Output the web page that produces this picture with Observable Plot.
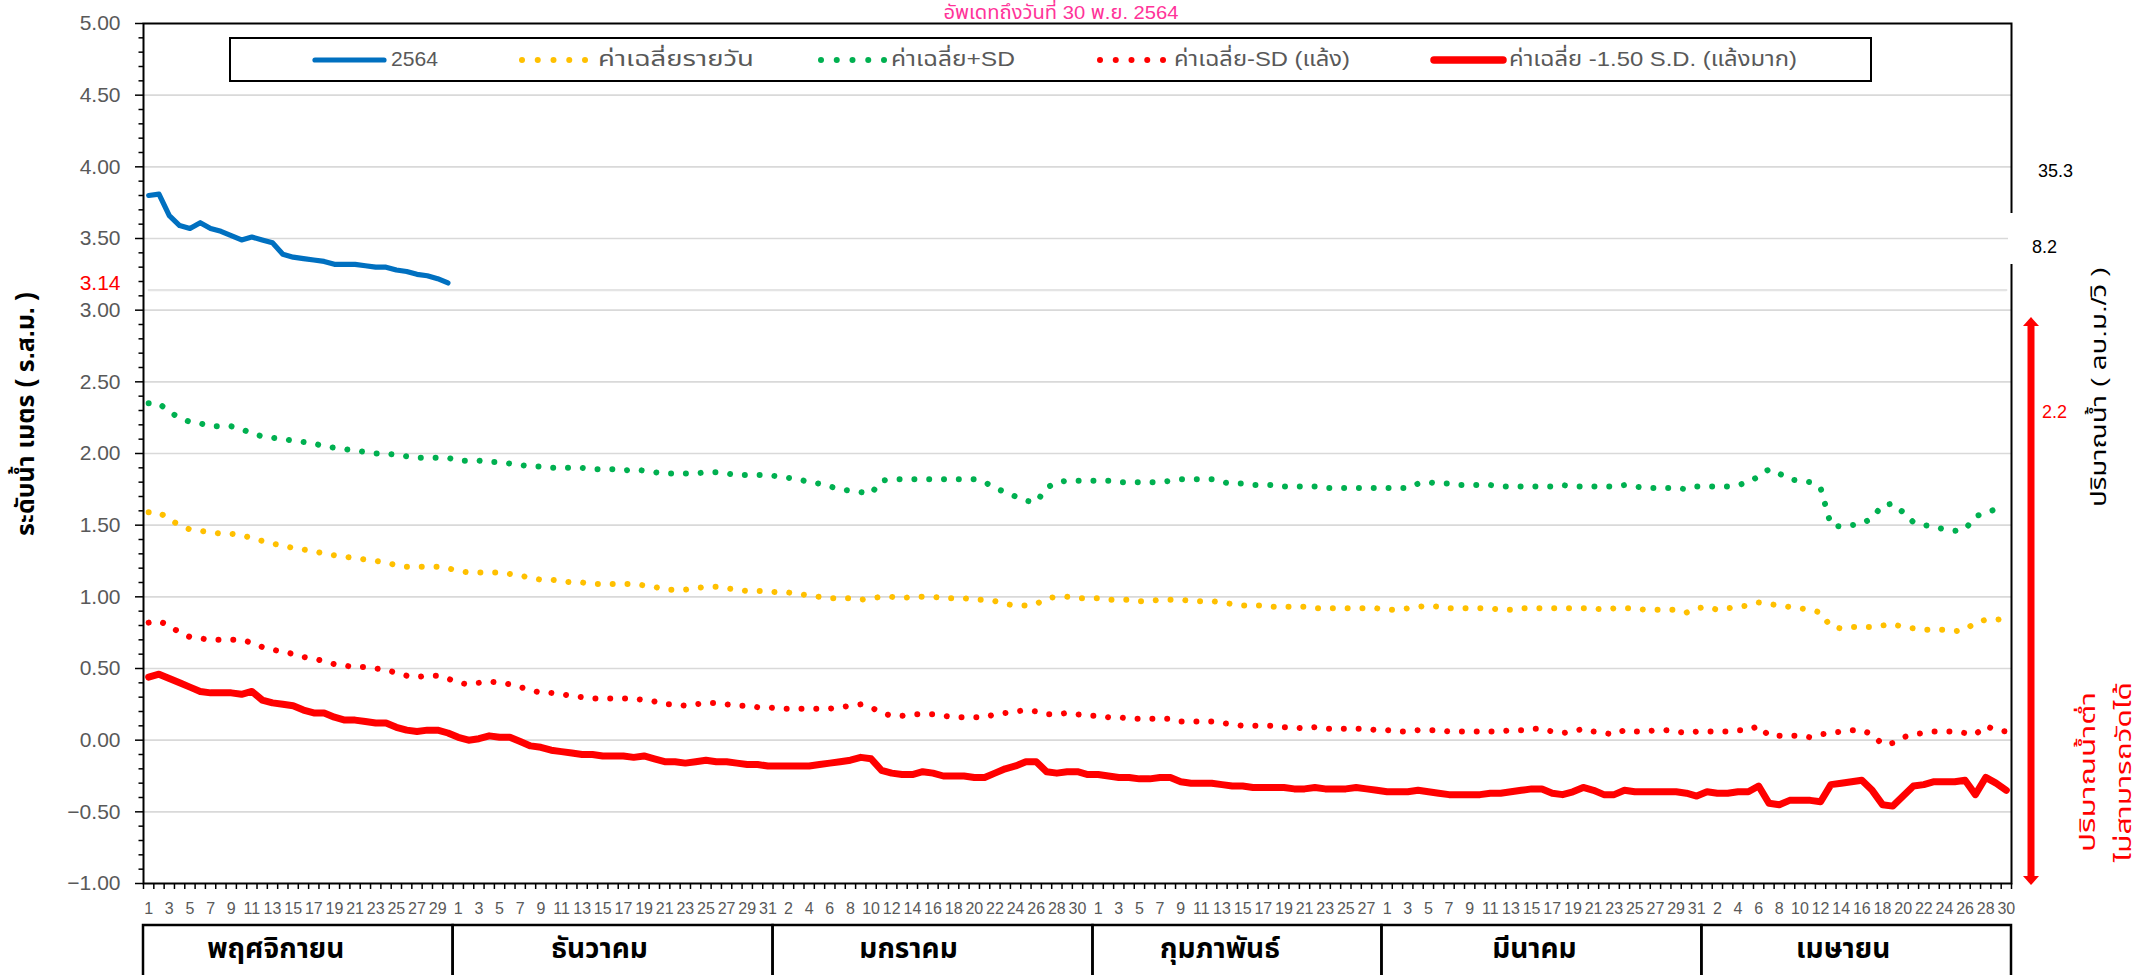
<!DOCTYPE html>
<html><head><meta charset="utf-8">
<script src="https://cdn.jsdelivr.net/npm/d3@7"></script>
<script src="https://cdn.jsdelivr.net/npm/@observablehq/plot@0.6"></script>
<style>
html,body{margin:0;padding:0;background:#fff;}
#chart{position:relative;width:2147px;height:975px;overflow:hidden;}
</style></head><body><div id="chart"></div>
<script>
// ---------- data ----------
const monthNames = ["พฤศจิกายน","ธันวาคม","มกราคม","กุมภาพันธ์","มีนาคม","เมษายน"];
const monthDays = [30,31,31,28,31,30];
const dayLabels = monthDays.flatMap(n => d3.range(1, n + 1).map(String));

const seriesNames = ["2564","ค่าเฉลี่ยรายวัน","ค่าเฉลี่ย+SD","ค่าเฉลี่ย-SD (แล้ง)","ค่าเฉลี่ย -1.50 S.D. (แล้งมาก)"];
const yTicks = [-1,-0.5,0,0.5,1,1.5,2,2.5,3,3.5,4,4.5,5];
const refLevel = 3.14;
const flowLabels = ["35.3","8.2","2.2"];

const level2564 = [3.80,3.81,3.66,3.59,3.57,3.61,3.57,3.55,3.52,3.49,3.51,3.49,3.47,3.39,3.37,3.36,3.35,3.34,3.32,3.32,3.32,3.31,3.30,3.30,3.28,3.27,3.25,3.24,3.22,3.19];

const avgDaily = [
1.59,1.59,1.54,1.50,1.47,1.46,1.45,1.44,1.44,1.43,1.41,1.39,1.37,1.36,1.34,1.33,1.32,1.30,1.29,1.28,1.27,1.26,1.25,1.24,1.22,1.21,1.21,1.21,1.21,1.20,
1.18,1.17,1.17,1.17,1.17,1.16,1.15,1.13,1.12,1.12,1.11,1.10,1.10,1.09,1.09,1.09,1.09,1.09,1.08,1.07,1.05,1.05,1.05,1.06,1.07,1.07,1.06,1.05,1.04,1.04,1.04,
1.03,1.03,1.02,1.01,1.00,0.99,0.99,0.99,0.98,0.99,1.00,1.00,0.99,1.00,1.00,1.00,0.99,0.99,0.99,0.98,0.98,0.97,0.95,0.94,0.94,0.95,0.99,1.00,1.00,0.99,0.99,
0.99,0.98,0.98,0.98,0.97,0.97,0.98,0.98,0.98,0.97,0.97,0.97,0.96,0.95,0.94,0.94,0.94,0.93,0.93,0.93,0.93,0.92,0.92,0.92,0.92,0.92,0.92,0.92,
0.91,0.91,0.92,0.93,0.94,0.93,0.92,0.92,0.92,0.92,0.92,0.91,0.91,0.92,0.92,0.92,0.92,0.92,0.92,0.92,0.92,0.91,0.92,0.92,0.92,0.91,0.91,0.91,0.91,0.89,0.92,
0.93,0.91,0.92,0.93,0.94,0.96,0.95,0.94,0.93,0.92,0.91,0.89,0.79,0.78,0.79,0.79,0.79,0.80,0.81,0.79,0.78,0.77,0.77,0.77,0.76,0.77,0.82,0.84,0.84,0.85
];

const avgPlusSD = [
2.35,2.35,2.29,2.25,2.22,2.21,2.19,2.19,2.19,2.17,2.14,2.12,2.11,2.10,2.09,2.08,2.07,2.05,2.04,2.03,2.02,2.01,2.00,2.00,1.99,1.98,1.97,1.97,1.97,1.97,
1.95,1.95,1.95,1.94,1.94,1.93,1.92,1.91,1.91,1.90,1.90,1.90,1.90,1.89,1.89,1.89,1.88,1.89,1.88,1.87,1.86,1.86,1.86,1.86,1.87,1.87,1.86,1.85,1.85,1.85,1.85,
1.84,1.83,1.82,1.80,1.79,1.77,1.75,1.74,1.73,1.72,1.81,1.82,1.82,1.82,1.82,1.82,1.82,1.82,1.82,1.82,1.80,1.76,1.73,1.70,1.67,1.66,1.76,1.80,1.81,1.81,1.81,
1.81,1.81,1.80,1.80,1.80,1.80,1.80,1.81,1.82,1.82,1.82,1.82,1.80,1.79,1.79,1.78,1.78,1.78,1.77,1.77,1.77,1.77,1.76,1.76,1.76,1.76,1.76,1.76,
1.76,1.76,1.76,1.79,1.80,1.79,1.79,1.78,1.78,1.78,1.78,1.77,1.77,1.77,1.77,1.77,1.77,1.78,1.77,1.77,1.77,1.77,1.77,1.78,1.77,1.76,1.76,1.76,1.76,1.75,1.77,
1.77,1.77,1.77,1.78,1.80,1.84,1.89,1.86,1.82,1.81,1.80,1.76,1.50,1.49,1.50,1.51,1.55,1.64,1.65,1.59,1.52,1.50,1.49,1.47,1.46,1.47,1.56,1.59,1.61,1.62
];

const avgMinusSD = [
0.82,0.83,0.80,0.75,0.72,0.71,0.70,0.70,0.70,0.70,0.68,0.65,0.63,0.62,0.60,0.58,0.57,0.55,0.53,0.52,0.51,0.51,0.50,0.49,0.47,0.45,0.44,0.45,0.45,0.43,
0.40,0.39,0.40,0.41,0.40,0.39,0.37,0.35,0.33,0.33,0.32,0.31,0.30,0.29,0.29,0.29,0.29,0.29,0.28,0.27,0.25,0.25,0.24,0.25,0.26,0.26,0.25,0.24,0.24,0.23,0.23,
0.22,0.22,0.22,0.22,0.22,0.22,0.23,0.24,0.25,0.23,0.19,0.17,0.17,0.18,0.18,0.18,0.17,0.16,0.16,0.16,0.16,0.18,0.19,0.20,0.21,0.20,0.18,0.18,0.19,0.18,0.17,
0.17,0.16,0.16,0.15,0.15,0.15,0.15,0.15,0.13,0.13,0.13,0.13,0.12,0.11,0.10,0.10,0.10,0.10,0.09,0.09,0.08,0.09,0.08,0.08,0.08,0.08,0.08,0.07,
0.07,0.06,0.06,0.07,0.07,0.07,0.06,0.06,0.06,0.06,0.06,0.06,0.07,0.07,0.08,0.08,0.06,0.05,0.06,0.08,0.06,0.05,0.04,0.07,0.06,0.06,0.07,0.07,0.06,0.05,0.06,
0.06,0.06,0.06,0.07,0.07,0.10,0.03,0.03,0.03,0.03,0.02,0.04,0.05,0.06,0.07,0.07,0.04,-0.03,-0.02,0.02,0.04,0.05,0.06,0.06,0.06,0.05,0.04,0.10,0.07,0.06
];

const avgMinus15SD = [
0.44,0.46,0.43,0.40,0.37,0.34,0.33,0.33,0.33,0.32,0.34,0.28,0.26,0.25,0.24,0.21,0.19,0.19,0.16,0.14,0.14,0.13,0.12,0.12,0.09,0.07,0.06,0.07,0.07,0.05,
0.02,0.00,0.01,0.03,0.02,0.02,-0.01,-0.04,-0.05,-0.07,-0.08,-0.09,-0.10,-0.10,-0.11,-0.11,-0.11,-0.12,-0.11,-0.13,-0.15,-0.15,-0.16,-0.15,-0.14,-0.15,-0.15,-0.16,-0.17,-0.17,-0.18,
-0.18,-0.18,-0.18,-0.18,-0.17,-0.16,-0.15,-0.14,-0.12,-0.13,-0.21,-0.23,-0.24,-0.24,-0.22,-0.23,-0.25,-0.25,-0.25,-0.26,-0.26,-0.23,-0.20,-0.18,-0.15,-0.15,-0.22,-0.23,-0.22,-0.22,-0.24,
-0.24,-0.25,-0.26,-0.26,-0.27,-0.27,-0.26,-0.26,-0.29,-0.30,-0.30,-0.30,-0.31,-0.32,-0.32,-0.33,-0.33,-0.33,-0.33,-0.34,-0.34,-0.33,-0.34,-0.34,-0.34,-0.33,-0.34,-0.35,
-0.36,-0.36,-0.36,-0.35,-0.36,-0.37,-0.38,-0.38,-0.38,-0.38,-0.37,-0.37,-0.36,-0.35,-0.34,-0.34,-0.37,-0.38,-0.36,-0.33,-0.35,-0.38,-0.38,-0.35,-0.36,-0.36,-0.36,-0.36,-0.36,-0.37,-0.39,
-0.36,-0.37,-0.37,-0.36,-0.36,-0.32,-0.44,-0.45,-0.42,-0.42,-0.42,-0.43,-0.31,-0.30,-0.29,-0.28,-0.35,-0.45,-0.46,-0.39,-0.32,-0.31,-0.29,-0.29,-0.29,-0.28,-0.38,-0.26,-0.30,-0.35
];

// ---------- styles ----------
const FONT = '"Liberation Sans","Noto Sans Thai","Loma","Garuda","Waree","Tlwg Typo","Noto Sans",sans-serif';
const GRAY = "#595959";
const C_BLUE = "#0070C0", C_YEL = "#FFC000", C_GRN = "#00B050", C_RED = "#FF0000";
const DOT = {strokeWidth: 6, strokeDasharray: "0.01 14.8", strokeLinecap: "round"};

const rows = dayLabels.map((d, i) => ({
  i, day: d,
  avg: avgDaily[i], plus: avgPlusSD[i], minus: avgMinusSD[i], minus15: avgMinus15SD[i],
  cur: i < level2564.length ? level2564[i] : null, ref: refLevel
}));
const curRows = rows.filter(r => r.cur != null);
const n = dayLabels.length;

const minorTicks = d3.range(-10, 51).map(k => k / 10).filter(v => Math.abs(v * 2 - Math.round(v * 2)) > 1e-6);

const chart = Plot.plot({
  width: 2147, height: 975,
  marginLeft: 143, marginRight: 136, marginTop: 23, marginBottom: 92,
  style: {fontFamily: FONT, background: "white", overflow: "visible"},
  x: {type: "linear", domain: [-0.5, n - 0.5], label: null},
  y: {type: "linear", domain: [-1, 5], label: null},
  marks: [
    Plot.gridY(yTicks.filter(v => v > -1 && v < 5), {stroke: "#D9D9D9", strokeOpacity: 1, strokeWidth: 1.6}),
    Plot.line(rows, {x: "i", y: "ref", stroke: "#E4E4E4", strokeWidth: 2.2}),
    Plot.line(curRows, {x: "i", y: "cur", stroke: C_BLUE, strokeWidth: 5.2, strokeLinecap: "round", strokeLinejoin: "round"}),
    Plot.line(rows, {x: "i", y: "avg", stroke: C_YEL, ...DOT}),
    Plot.line(rows, {x: "i", y: "plus", stroke: C_GRN, ...DOT}),
    Plot.line(rows, {x: "i", y: "minus", stroke: C_RED, ...DOT}),
    Plot.line(rows, {x: "i", y: "minus15", stroke: C_RED, strokeWidth: 7, strokeLinejoin: "round", strokeLinecap: "round"}),
    Plot.frame({stroke: "black", strokeWidth: 2}),
    // y axis ticks + labels
    Plot.axisY({ticks: yTicks, tickSize: 8, tickFormat: () => "", stroke: "black", strokeWidth: 1.5}),
    Plot.axisY({ticks: minorTicks, tickSize: 4.5, tickFormat: () => "", stroke: "black", strokeWidth: 1.5}),
    Plot.axisY({ticks: yTicks, tickSize: 0, tickPadding: 23, tickFormat: d3.format(".2f"), fill: GRAY, fontSize: 21}),
    Plot.axisY({ticks: [refLevel], tickSize: 0, tickPadding: 23, dy: -7, tickFormat: d3.format(".2f"), fill: C_RED, fontSize: 21}),
    // x axis: category boundary ticks + day labels
    Plot.axisX({ticks: d3.range(0, n + 1).map(k => k - 0.5), tickSize: 6, tickFormat: () => "", stroke: "black", strokeWidth: 1.5}),
    Plot.axisX({ticks: d3.range(0, n, 2), tickSize: 0, tickPadding: 19, tickFormat: i => dayLabels[i], fill: GRAY, fontSize: 16})
  ]
});
document.getElementById("chart").appendChild(chart);

// ---------- annotations (positions from the scales) ----------
const svg = d3.select(chart);
const xs = chart.scale("x");
const X = v => xs.apply(v);
const plotRight = X(n - 0.5);
const ann = svg.append("g").attr("font-family", FONT).attr("text-anchor", "start");

// month table (labels sit slightly left of the cell centre, as in the original)
const monthLabelShift = [-22, -13, -24, -17, -7, -13];
let start = 0;
monthDays.forEach((len, k) => {
  const x0 = X(start - 0.5), x1 = X(start + len - 0.5);
  ann.append("rect").attr("x", x0).attr("y", 925).attr("width", x1 - x0).attr("height", 80)
    .attr("fill", "none").attr("stroke", "black").attr("stroke-width", 2.5);
  ann.append("text").attr("x", (x0 + x1) / 2 + monthLabelShift[k]).attr("y", 951).attr("text-anchor", "middle")
    .attr("dominant-baseline", "middle").attr("font-size", 28).attr("font-weight", "bold")
    .attr("fill", "black").text(monthNames[k]);
  start += len;
});

// legend
const lg = ann.append("g");
lg.append("rect").attr("x", 230).attr("y", 38).attr("width", 1641).attr("height", 43)
  .attr("fill", "white").attr("stroke", "black").attr("stroke-width", 2);
const LY = 60;
const legendItems = [
  {x0: 315, x1: 384, tx: 391, tw: 47, stroke: C_BLUE, w: 5.2, dots: false},
  {x0: 522, x1: 585, tx: 598, tw: 156, stroke: C_YEL, w: 6, dots: true},
  {x0: 821, x1: 884, tx: 891, tw: 124, stroke: C_GRN, w: 6, dots: true},
  {x0: 1100, x1: 1163, tx: 1174, tw: 176, stroke: C_RED, w: 6, dots: true},
  {x0: 1434, x1: 1503, tx: 1509, tw: 288, stroke: C_RED, w: 7.5, dots: false}
];
legendItems.forEach((it, k) => {
  if (it.dots) {
    d3.range(5).forEach(j => {
      lg.append("circle").attr("cx", it.x0 + j * (it.x1 - it.x0) / 4).attr("cy", LY).attr("r", it.w / 2).attr("fill", it.stroke);
    });
  } else {
    lg.append("line").attr("x1", it.x0).attr("x2", it.x1).attr("y1", LY).attr("y2", LY)
      .attr("stroke", it.stroke).attr("stroke-width", it.w).attr("stroke-linecap", "round");
  }
  lg.append("text").attr("x", it.tx).attr("y", LY).attr("dominant-baseline", "middle").attr("text-anchor", "start")
    .attr("font-size", 21).attr("fill", GRAY).attr("textLength", it.tw).attr("lengthAdjust", "spacingAndGlyphs")
    .text(seriesNames[k]);
});

// title
ann.append("text").attr("x", 1061).attr("y", 14).attr("text-anchor", "middle").attr("dominant-baseline", "middle")
  .attr("font-size", 19).attr("fill", "#FF3399").attr("textLength", 235).attr("lengthAdjust", "spacingAndGlyphs")
  .text("อัพเดทถึงวันที่ 30 พ.ย. 2564");

// y axis title
ann.append("text").attr("transform", "translate(27,414) rotate(-90)").attr("text-anchor", "middle")
  .attr("dominant-baseline", "middle").attr("font-size", 25).attr("font-weight", "bold").attr("fill", "black")
  .text("ระดับน้ำ เมตร ( ร.ส.ม. )");

// right side: gap in border behind the 8.2 label, flow labels, arrow, titles
ann.append("rect").attr("x", plotRight - 3).attr("y", 213).attr("width", 6).attr("height", 51).attr("fill", "white");
ann.append("text").attr("x", 2038).attr("y", 172).attr("dominant-baseline", "middle").attr("text-anchor", "start").attr("font-size", 18).attr("fill", "black").text(flowLabels[0]);
ann.append("text").attr("x", 2032).attr("y", 248).attr("dominant-baseline", "middle").attr("text-anchor", "start").attr("font-size", 18).attr("fill", "black").text(flowLabels[1]);
ann.append("text").attr("x", 2042).attr("y", 413).attr("dominant-baseline", "middle").attr("text-anchor", "start").attr("font-size", 18).attr("fill", C_RED).text(flowLabels[2]);

const AX = 2031, AT = 317, AB = 885;
ann.append("line").attr("x1", AX).attr("x2", AX).attr("y1", AT + 8).attr("y2", AB - 8).attr("stroke", C_RED).attr("stroke-width", 7);
ann.append("path").attr("d", `M${AX},${AT} L${AX + 8},${AT + 9} L${AX - 8},${AT + 9} Z`).attr("fill", C_RED);
ann.append("path").attr("d", `M${AX},${AB} L${AX + 8},${AB - 9} L${AX - 8},${AB - 9} Z`).attr("fill", C_RED);

ann.append("text").attr("transform", "translate(2100,387) rotate(-90)").attr("text-anchor", "middle")
  .attr("dominant-baseline", "middle").attr("font-size", 21).attr("fill", "black")
  .attr("textLength", 240).attr("lengthAdjust", "spacingAndGlyphs").text("ปริมาณน้ำ ( ลบ.ม./วิ )");
ann.append("text").attr("transform", "translate(2089,772) rotate(-90)").attr("text-anchor", "middle")
  .attr("dominant-baseline", "middle").attr("font-size", 21).attr("fill", C_RED)
  .attr("textLength", 160).attr("lengthAdjust", "spacingAndGlyphs").text("ปริมาณน้ำต่ำ");
ann.append("text").attr("transform", "translate(2125,772) rotate(-90)").attr("text-anchor", "middle")
  .attr("dominant-baseline", "middle").attr("font-size", 21).attr("fill", C_RED)
  .attr("textLength", 180).attr("lengthAdjust", "spacingAndGlyphs").text("ไม่สามารถวัดได้");
</script></body></html>
